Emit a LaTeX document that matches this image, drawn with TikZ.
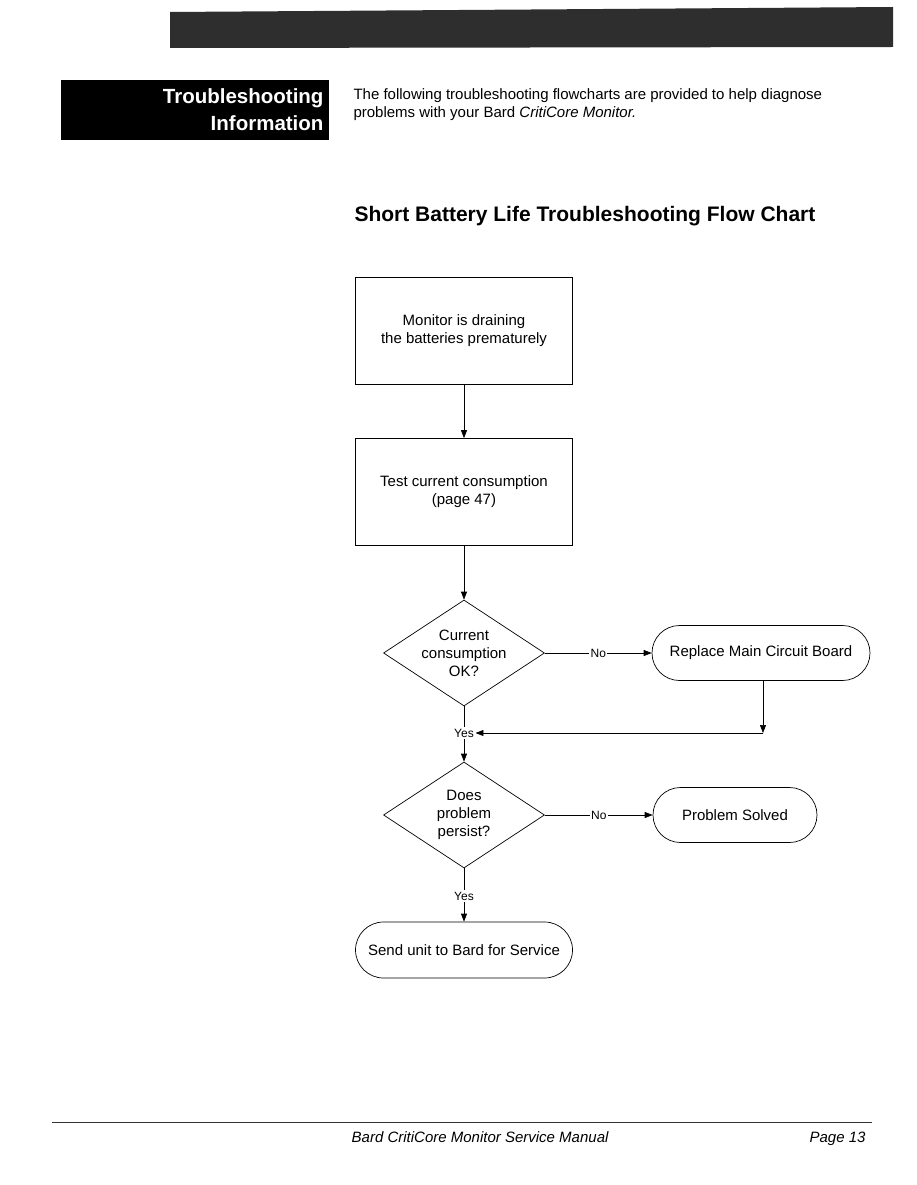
\documentclass[tikz,border=0pt]{standalone}
\usepackage{fontspec}
\setmainfont{Liberation Sans}
\usetikzlibrary{shapes.geometric,shapes.misc,arrows.meta,calc}
\begin{document}
\begin{tikzpicture}[x=1pt,y=-1pt,
  every node/.style={font=\fontsize{15}{18}\selectfont},
  procbox/.style={draw,line width=0.7pt,rectangle,minimum width=217pt,minimum height=107pt,align=center,inner sep=0pt},
  decbox/.style={draw,line width=0.7pt,diamond,shape aspect=1.55,minimum width=161pt,minimum height=106pt,align=center,inner sep=0pt},
  termbox/.style={draw,line width=0.7pt,rounded rectangle,minimum height=55pt,align=center,inner sep=0pt},
  conn/.style={line width=0.7pt},
  arr/.style={line width=0.7pt,-{Triangle[length=8pt,width=6pt]}},
  lbl/.style={font=\fontsize{12}{13}\selectfont,fill=white,inner sep=1.5pt}]
\useasboundingbox (0,0) rectangle (916,1185);
\fill[white] (0,0) rectangle (916,1185);
% header bar
\fill[black!82] (170,12) -- (893,7) -- (893,47) -- (170,48) -- cycle;
% title box
\node[fill=black,minimum width=268pt,minimum height=60pt,anchor=north west,inner sep=0pt] (titlebox) at (61,80) {};
\node[anchor=east,text=white,align=right,font=\fontsize{20.5}{27}\selectfont\bfseries] (titletext) at (327,110) {Troubleshooting\\Information};
% intro
\node[anchor=west,align=left,font=\fontsize{15}{18}\selectfont] (intro) at (350,105) {The following troubleshooting flowcharts are provided to help diagnose\\problems with your Bard \textit{CritiCore Monitor.}};
% heading
\node[anchor=west,font=\fontsize{21}{24}\selectfont\bfseries] (heading) at (351,216) {Short Battery Life Troubleshooting Flow Chart};
% flowchart
\node[procbox] (b1) at (464,331) {Monitor is draining\\the batteries prematurely};
\node[procbox] (b2) at (464,492) {Test current consumption\\(page 47)};
\node[decbox] (d1) at (464,653) {Current\\consumption\\OK?};
\node[termbox,minimum width=218pt] (rep) at (761,653) {Replace Main Circuit Board};
\node[lbl] (yes1) at (464,733) {Yes};
\coordinate (corner) at (763,733);
\node[decbox] (d2) at (464,815) {Does\\problem\\persist?};
\node[termbox,minimum width=164pt] (solved) at (735,815) {Problem Solved};
\node[lbl] (yes2) at (464,896) {Yes};
\node[termbox,minimum width=217pt,minimum height=56pt] (send) at (464,950) {Send unit to Bard for Service};
\draw[arr] (b1) -- (b2);
\draw[arr] (b2) -- (d1);
\draw[arr] (d1.east) -- node[lbl]{No} (rep.west);
\draw[conn] (d1.south) -- (yes1.north);
\draw[arr] (rep.south -| corner) -- (corner);
\draw[arr] (corner) -- (yes1.east);
\draw[arr] (yes1.south) -- (d2.north);
\draw[arr] (d2.east) -- node[lbl]{No} (solved.west);
\draw[conn] (d2.south) -- (yes2.north);
\draw[arr] (yes2.south) -- (send.north);
% footer
\draw[line width=0.8pt,black!80] (52,1122) -- (872,1122);
\node[anchor=base east,font=\fontsize{15}{16}\selectfont\itshape] (footer) at (612,1142) {Bard CritiCore Monitor Service Manual};
\node[anchor=base east,font=\fontsize{15}{16}\selectfont\itshape] (page) at (869,1142) {Page 13};
\end{tikzpicture}
\end{document}
